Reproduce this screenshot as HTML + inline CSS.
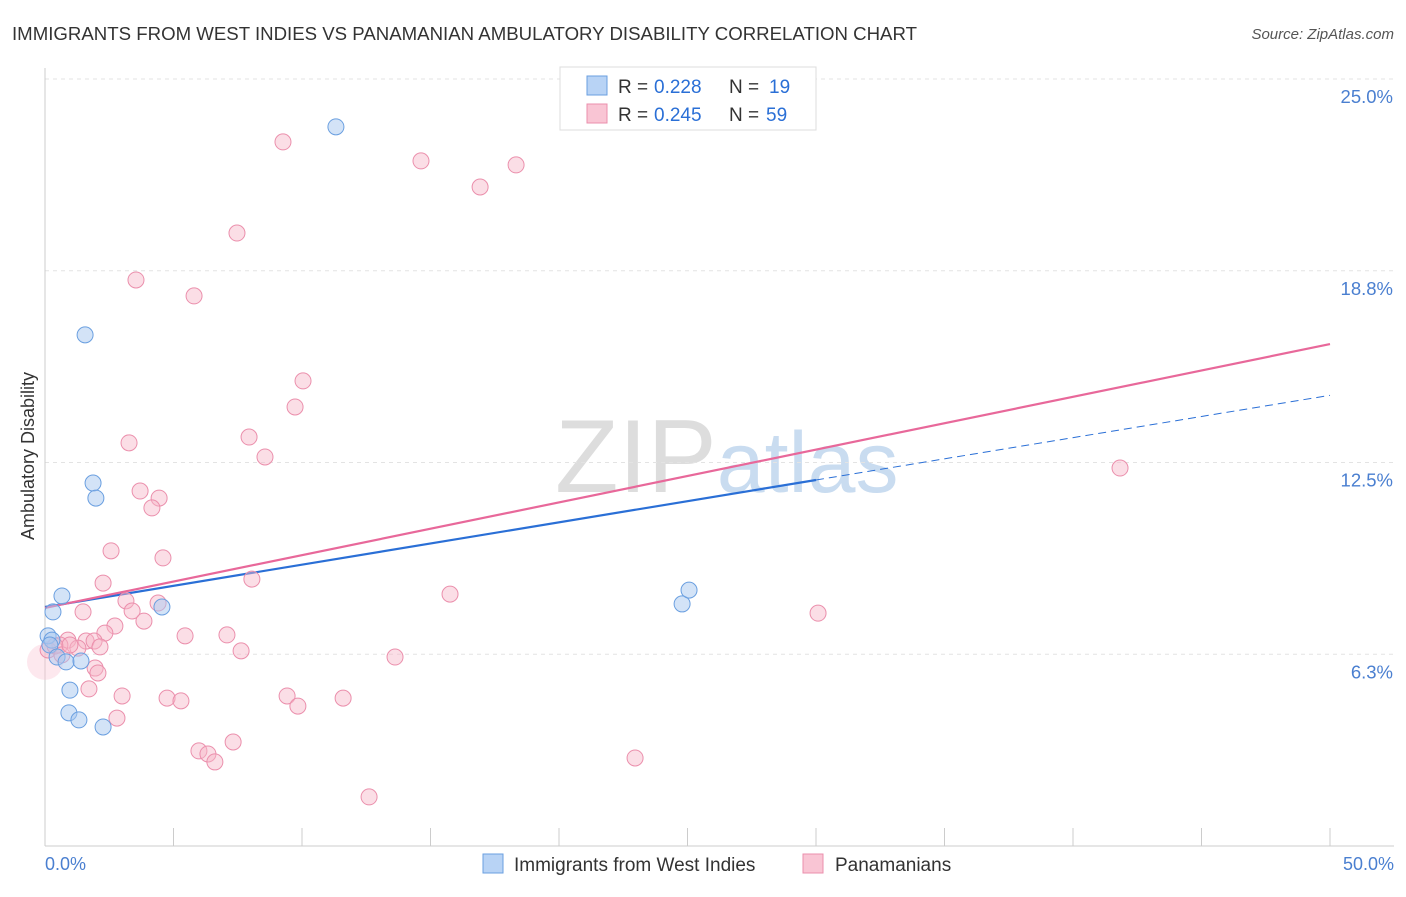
<!DOCTYPE html>
<html><head><meta charset="utf-8"><style>
body{margin:0;background:#fff;font-family:"Liberation Sans",sans-serif}
svg text{font-family:"Liberation Sans",sans-serif}
</style></head><body>
<svg id="chart" width="1406" height="892" viewBox="0 0 1406 892">
<text x="12" y="40" font-size="18" fill="#333" textLength="905" lengthAdjust="spacingAndGlyphs">IMMIGRANTS FROM WEST INDIES VS PANAMANIAN AMBULATORY DISABILITY CORRELATION CHART</text>
<text x="1394" y="39" font-size="15" fill="#555" font-style="italic" text-anchor="end">Source: ZipAtlas.com</text>
<text x="555" y="492" font-size="104" fill="#ddd" font-family="Liberation Serif">ZIP<tspan fill="#c9dcf0" font-family="Liberation Sans" font-size="86">atlas</tspan></text>
<g id="grid"></g>
<g id="axes"></g>
<g id="lines"></g>
<g id="pts"></g>
<text transform="translate(34,456) rotate(-90)" font-size="18" fill="#333" text-anchor="middle">Ambulatory Disability</text>
<text x="45" y="870" font-size="18" fill="#4a7fd0">0.0%</text>
<text x="1394" y="870" font-size="18" fill="#4a7fd0" text-anchor="end">50.0%</text>
<g>
<rect x="560" y="67" width="256" height="63" fill="#fff" stroke="#ddd"/>
<rect x="587" y="76" width="20" height="19" fill="#b8d3f5" stroke="#6a9fe0"/>
<rect x="587" y="104" width="20" height="19" fill="#f9c5d4" stroke="#eb8fac"/>
<text x="618" y="93" font-size="19" fill="#333">R =</text>
<text x="654" y="93" font-size="19" fill="#2a6fd6">0.228</text>
<text x="729" y="93" font-size="19" fill="#333">N =</text>
<text x="769" y="93" font-size="19" fill="#2a6fd6">19</text>
<text x="618" y="121" font-size="19" fill="#333">R =</text>
<text x="654" y="121" font-size="19" fill="#2a6fd6">0.245</text>
<text x="729" y="121" font-size="19" fill="#333">N =</text>
<text x="766" y="121" font-size="19" fill="#2a6fd6">59</text>
</g>
<g>
<rect x="483" y="854" width="20" height="19" fill="#b8d3f5" stroke="#6a9fe0"/>
<text x="514" y="871" font-size="19" fill="#333">Immigrants from West Indies</text>
<rect x="803" y="854" width="20" height="19" fill="#f9c5d4" stroke="#eb8fac"/>
<text x="835" y="871" font-size="19" fill="#333">Panamanians</text>
</g>
</svg>
<script>
const yTicks=[6.25,12.5,18.75,25];
const yTickLabels=["6.3%","12.5%","18.8%","25.0%"];
const blueX=[0.31,0.66,0.12,0.27,0.19,0.47,0.82,1.40,0.97,0.93,1.32,2.26,1.56,1.87,1.98,4.55,11.32,24.79,25.06];
const blueY=[7.63,8.15,6.85,6.71,6.55,6.16,6.00,6.03,5.08,4.34,4.11,3.88,16.66,11.83,11.34,7.79,23.44,7.89,8.34];
const pinkX=[9.26,14.63,18.33,16.93,7.47,3.54,5.80,10.04,9.73,3.27,7.94,8.56,3.70,4.44,4.16,41.83,2.57,4.59,2.26,8.05,15.76,3.15,4.40,3.39,1.48,3.85,2.72,30.08,2.33,5.45,7.08,1.60,0.89,1.91,0.58,2.14,1.28,7.63,13.62,1.95,2.06,1.71,3.00,4.75,5.29,9.42,11.60,9.84,2.80,7.32,5.99,6.34,6.61,22.96,12.61,0.12,0.39,0.66,0.97];
const pinkY=[22.95,22.33,22.20,21.48,19.98,18.45,17.93,15.16,14.31,13.14,13.33,12.68,11.57,11.34,11.02,12.32,9.62,9.39,8.57,8.70,8.21,7.99,7.92,7.66,7.63,7.33,7.17,7.59,6.94,6.85,6.88,6.68,6.71,6.68,6.55,6.49,6.45,6.36,6.16,5.80,5.64,5.12,4.89,4.82,4.73,4.89,4.82,4.56,4.17,3.39,3.10,3.00,2.74,2.87,1.60,6.39,6.52,6.23,6.55];
const blueLine=[7.79,11.93,14.69]; // at x=0,30,50
const pinkLine=[7.76,16.36]; // at x=0,50
const NS="http://www.w3.org/2000/svg";
const sx=v=>45+v/50*1285, sy=v=>846-v/25*767;
function mk(tag,attrs,parent){const e=document.createElementNS(NS,tag);for(const k in attrs)e.setAttribute(k,attrs[k]);document.getElementById(parent).appendChild(e);return e;}
yTicks.forEach((t,i)=>{
 const g=mk('line',{x1:45,x2:1394,y1:sy(t),y2:sy(t),stroke:'#e3e3e3','stroke-dasharray':'4,4'},'grid');
 
 
 const l=mk('text',{x:1393,y:sy(t)+24,'font-size':18.5,fill:'#4a7fd0','text-anchor':'end'},'grid');
 l.textContent=yTickLabels[i];
 
 
});
const ax=mk('line',{x1:45,x2:45,y1:68,y2:846,stroke:'#ccc'},'axes');


const bx=mk('line',{x1:45,x2:1394,y1:846,y2:846,stroke:'#ccc'},'axes');


for(let i=0;i<=10;i++){
 const t=mk('line',{x1:sx(i*5),x2:sx(i*5),y1:828,y2:846,stroke:'#ccc'},'axes');
 
 
}
let l1=mk('line',{x1:sx(0),y1:sy(blueLine[0]),x2:sx(30),y2:sy(blueLine[1]),stroke:'#2a6fd6','stroke-width':2.2},'lines');


let l2=mk('line',{x1:sx(30),y1:sy(blueLine[1]),x2:sx(50),y2:sy(blueLine[2]),stroke:'#2a6fd6','stroke-width':1,'stroke-dasharray':'8,5'},'lines');


let l3=mk('line',{x1:sx(0),y1:sy(pinkLine[0]),x2:sx(50),y2:sy(pinkLine[1]),stroke:'#e8689a','stroke-width':2.2},'lines');


const big=mk('circle',{cx:sx(0),cy:sy(6.0),r:18,fill:'#f9c5d4','fill-opacity':0.4,stroke:'none'},'pts');


pinkX.forEach((x,i)=>{
 const c=mk('circle',{cx:sx(x),cy:sy(pinkY[i]),r:8,fill:'#f7b6c8','fill-opacity':0.45,stroke:'#eb8fac','stroke-width':1},'pts');
 
 
});
blueX.forEach((x,i)=>{
 const c=mk('circle',{cx:sx(x),cy:sy(blueY[i]),r:8,fill:'#a8c8f0','fill-opacity':0.5,stroke:'#6a9fe0','stroke-width':1},'pts');
 
 
});
</script>
</body></html>
